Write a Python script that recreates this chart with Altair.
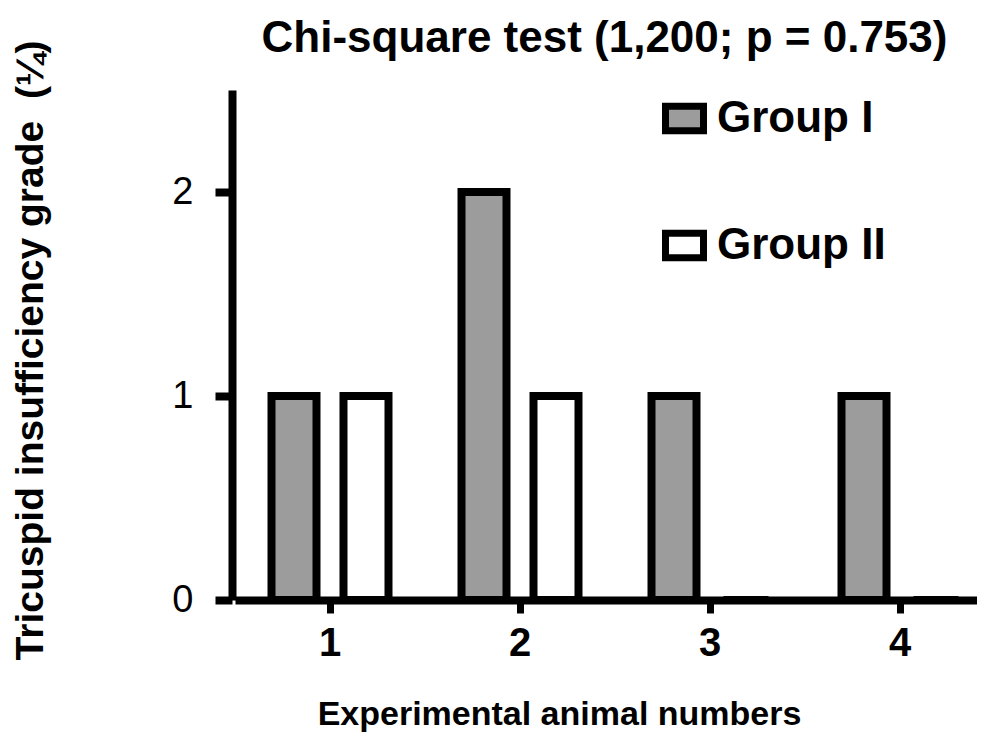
import altair as alt
import pandas as pd

animals = ["1", "2", "3", "4"]
groups = ["Group I", "Group II"]
group_i = [1, 2, 1, 1]
group_ii = [1, 1, 0, 0]
y_ticks = [0, 1, 2]

rows = []
for a, v in zip(animals, group_i):
    rows.append({"animal": a, "group": groups[0], "grade": v})
for a, v in zip(animals, group_ii):
    rows.append({"animal": a, "group": groups[1], "grade": v})
df = pd.DataFrame(rows)

FONT = "Liberation Sans"
legend_shape = "M-1,-0.64L1,-0.64L1,0.64L-1,0.64Z"

chart = (
    alt.Chart(df)
    .mark_bar(stroke="black", strokeWidth=8, strokeOpacity=1, opacity=1)
    .encode(
        x=alt.X(
            "animal:N",
            sort=animals,
            scale=alt.Scale(range=[3, 763], paddingInner=0, paddingOuter=0),
            axis=alt.Axis(
                title="Experimental animal numbers",
                titleFont=FONT,
                titleFontSize=34,
                titleFontWeight="bold",
                titleColor="black",
                titleX=327,
                titleY=124,
                titleBaseline="alphabetic",
                labelAngle=0,
                labelFont=FONT,
                labelFontSize=40,
                labelFontWeight="bold",
                labelColor="black",
                labelBaseline="alphabetic",
                labelPadding=42,
                tickSize=13,
                tickWidth=7,
                tickColor="black",
                domainWidth=8,
                domainColor="black",
                grid=False,
                zindex=1,
            ),
        ),
        xOffset=alt.XOffset(
            "group:N",
            sort=groups,
            scale=alt.Scale(paddingInner=0.375, paddingOuter=0.507),
        ),
        y=alt.Y(
            "grade:Q",
            scale=alt.Scale(domain=[0, 2.5], nice=False),
            axis=alt.Axis(
                title="Tricuspid insufficiency grade\u00a0\u00a0(\u00bc)",
                titleFont=FONT,
                titleFontSize=39,
                titleFontWeight="bold",
                titleColor="black",
                titleAngle=270,
                titleX=-190,
                titleY=260,
                titleBaseline="alphabetic",
                values=y_ticks,
                format="d",
                labelFont=FONT,
                labelFontSize=38,
                labelFontWeight="normal",
                labelColor="black",
                labelPadding=22,
                tickSize=17,
                tickWidth=8,
                tickColor="black",
                domainWidth=8,
                domainColor="black",
                grid=False,
                zindex=1,
            ),
        ),
        color=alt.Color(
            "group:N",
            sort=groups,
            scale=alt.Scale(domain=groups, range=["#9c9c9c", "#ffffff"]),
            legend=alt.Legend(
                title=None,
                orient="none",
                legendX=430,
                legendY=6,
                symbolType=legend_shape,
                symbolSize=1444,
                symbolStrokeWidth=7,
                symbolStrokeColor="black",
                symbolOpacity=1,
                labelFont=FONT,
                labelFontSize=44,
                labelFontWeight="bold",
                labelColor="black",
                labelOffset=10,
                labelLimit=400,
                rowPadding=74,
                padding=0,
            ),
        ),
    )
    .properties(
        width=745,
        height=510,
        background="white",
        title=alt.TitleParams(
            text="Chi-square test (1,200; p = 0.753)",
            font=FONT,
            fontSize=44,
            fontWeight="bold",
            color="black",
            anchor="middle",
            frame="group",
            offset=-21,
        ),
        autosize=alt.AutoSizeParams(type="none"),
        padding={"left": 224, "top": 82, "right": 0, "bottom": 133},
    )
    .configure_view(strokeWidth=0, stroke="transparent")
)

chart.save("out.html", embed_options={"renderer": "svg", "actions": False})
